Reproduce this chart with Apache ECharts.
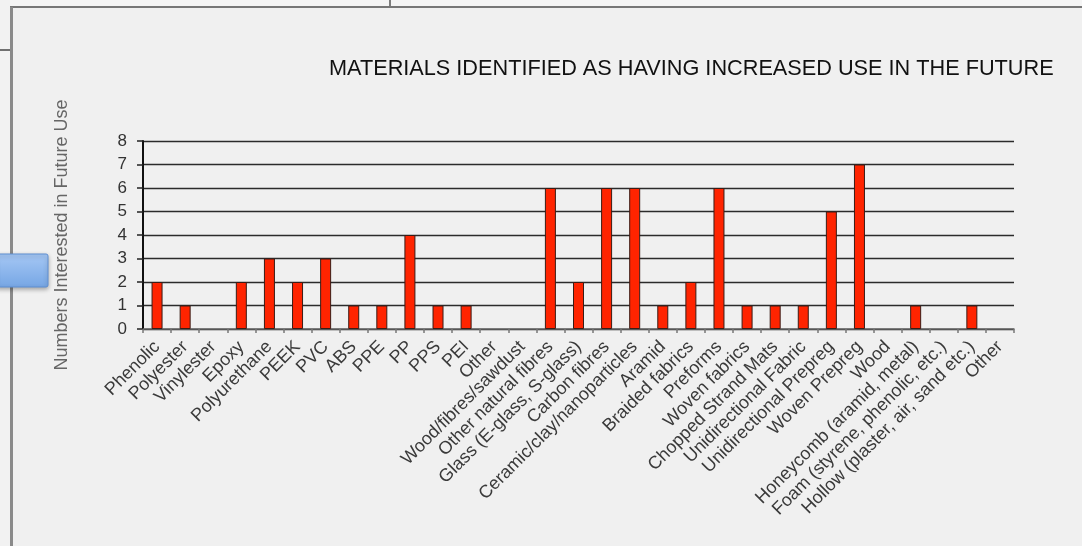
<!DOCTYPE html>
<html>
<head>
<meta charset="utf-8">
<script src="https://cdn.jsdelivr.net/npm/echarts@6/dist/echarts.min.js"></script>
<style>
  html, body { margin: 0; padding: 0; background: #f0f0f0; }
  #chart { width: 1082px; height: 546px; }
</style>
</head>
<body>
<div id="chart"></div>
<script>
// Materials survey: how many respondents expect increased future use of each material
const categories = [
  'Phenolic', 'Polyester', 'Vinylester', 'Epoxy', 'Polyurethane', 'PEEK', 'PVC',
  'ABS', 'PPE', 'PP', 'PPS', 'PEI', 'Other',
  'Wood/fibres/sawdust', 'Other natural fibres', 'Glass (E-glass, S-glass)',
  'Carbon fibres', 'Ceramic/clay/nanoparticles', 'Aramid', 'Braided fabrics',
  'Preforms', 'Woven fabrics', 'Chopped Strand Mats', 'Unidirectional Fabric',
  'Unidirectional Prepreg', 'Woven Prepreg', 'Wood',
  'Honeycomb (aramid, metal)', 'Foam (styrene, phenolic, etc.)',
  'Hollow (plaster, air, sand etc.)', 'Other'
];
const futureUse = [
  2, 1, 0, 2, 3, 2, 3,
  1, 1, 4, 1, 1, 0,
  0, 6, 2,
  6, 6, 1, 2,
  6, 1, 1, 1,
  5, 7, 0,
  1, 0,
  1, 0
];
const yTicks = [0, 1, 2, 3, 4, 5, 6, 7, 8];

const chart = echarts.init(document.getElementById('chart'), null, { renderer: 'canvas' });

const font = '"Liberation Sans", Arial, Helvetica, sans-serif';

// zero-valued bars get no outline so nothing is drawn for them
const barData = futureUse.map(v => (v === 0 ? { value: v, itemStyle: { borderWidth: 0 } } : v));

chart.setOption({
  backgroundColor: '#f0f0f0',
  animation: false,
  title: {
    text: 'MATERIALS IDENTIFIED AS HAVING INCREASED USE IN THE FUTURE',
    left: 324,
    top: 53,
    textStyle: { fontFamily: font, fontSize: 21.7, fontWeight: 'normal', color: '#111' }
  },
  grid: { left: 143, right: 68, top: 141, bottom: 217, containLabel: false },
  xAxis: {
    type: 'category',
    data: categories,
    boundaryGap: true,
    axisLine: { show: true, lineStyle: { color: '#666', width: 1.5 } },
    axisTick: { show: true, alignWithLabel: false, length: 4, lineStyle: { color: '#777', width: 1.5 } },
    axisLabel: {
      interval: 0,
      rotate: 45,
      margin: 15,
      fontFamily: font,
      fontSize: 18,
      color: '#3a3a3a'
    },
    splitLine: { show: false }
  },
  yAxis: {
    type: 'value',
    min: yTicks[0],
    max: yTicks[yTicks.length - 1],
    interval: 1,
    name: 'Numbers Interested in Future Use',
    nameLocation: 'middle',
    nameGap: 72,
    nameTextStyle: { fontFamily: font, fontSize: 18, color: '#666' },
    axisLine: { show: true, lineStyle: { color: '#111', width: 2 } },
    axisTick: { show: true, inside: false, length: 6, lineStyle: { color: '#222', width: 1.5 } },
    axisLabel: { fontFamily: font, fontSize: 17, color: '#333', margin: 16 },
    splitLine: { show: true, lineStyle: { color: '#2b2b2b', width: 1.4 } }
  },
  series: [{
    type: 'bar',
    data: barData,
    barWidth: 11,
    itemStyle: { color: '#ff2400', borderColor: '#3a1c16', borderWidth: 1 }
  }],
  graphic: [
    // window frame behind the chart panel
    { type: 'rect', silent: true, z: 100, shape: { x: 0, y: 0, width: 1082, height: 7 }, style: { fill: '#f5f5f5' } },
    { type: 'rect', silent: true, z: 100, shape: { x: 0, y: 0, width: 10, height: 546 }, style: { fill: '#f2f2f2' } },
    { type: 'line', silent: true, z: 101, shape: { x1: 390, y1: 0, x2: 390, y2: 6 }, style: { stroke: '#555', lineWidth: 1.5 } },
    { type: 'line', silent: true, z: 101, shape: { x1: 0, y1: 50, x2: 10, y2: 50 }, style: { stroke: '#444', lineWidth: 1.5 } },
    // panel border (top and left edges)
    { type: 'line', silent: true, z: 102, shape: { x1: 10, y1: 7, x2: 1082, y2: 7 }, style: { stroke: '#777', lineWidth: 2 } },
    { type: 'line', silent: true, z: 102, shape: { x1: 11.5, y1: 7, x2: 11.5, y2: 546 }, style: { stroke: '#8a8a8a', lineWidth: 3 } },
    // blue tab on the left edge
    {
      type: 'rect', silent: true, z: 103,
      shape: { x: -4, y: 254, width: 52, height: 33, r: 2 },
      style: {
        fill: new echarts.graphic.LinearGradient(0, 0, 0, 1, [
          { offset: 0, color: '#a6c8f5' },
          { offset: 1, color: '#76a6e4' }
        ]),
        stroke: '#5f8fd2',
        lineWidth: 1,
        shadowBlur: 4,
        shadowOffsetY: 2,
        shadowColor: 'rgba(0,0,0,0.3)'
      }
    }
  ]
});
</script>
</body>
</html>
